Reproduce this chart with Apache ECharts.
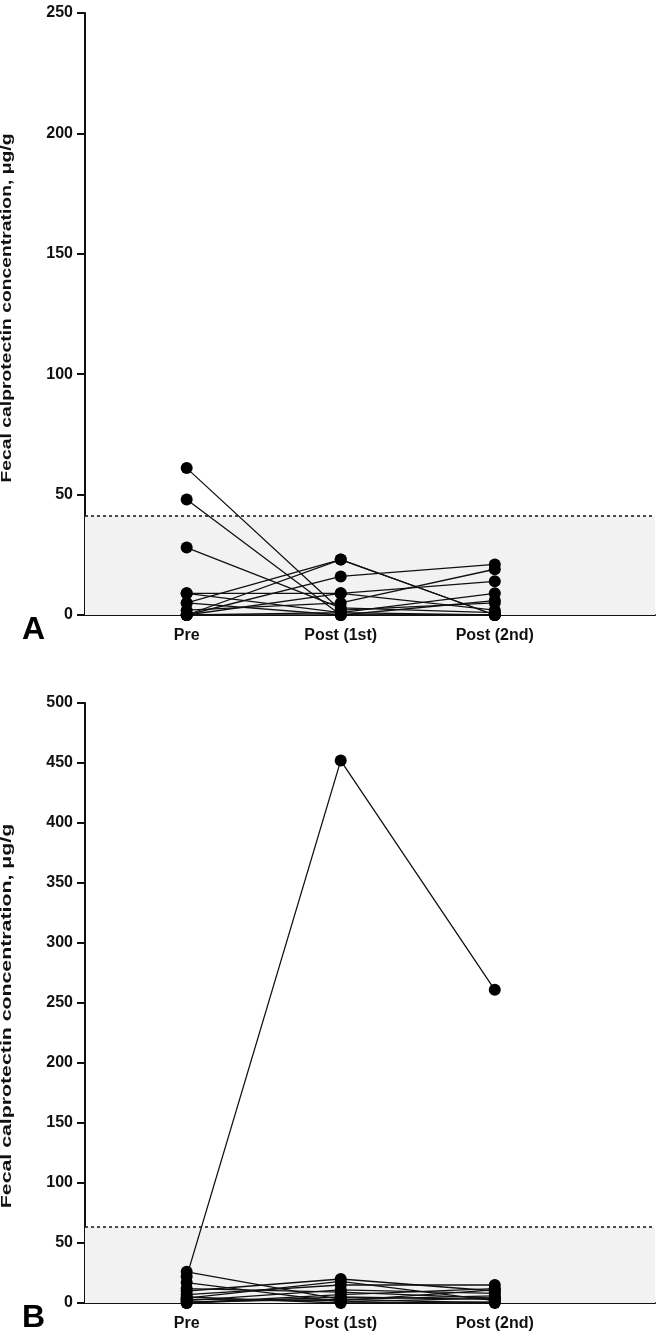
<!DOCTYPE html>
<html><head><meta charset="utf-8">
<script src="https://cdn.jsdelivr.net/npm/echarts@6/dist/echarts.min.js"></script>
<style>html,body{margin:0;padding:0;background:#fff}#c{width:661px;height:1343px}</style>
</head><body><div id="c"></div>
<script>
const categories = ['Pre', 'Post (1st)', 'Post (2nd)'];
const yTitle = 'Fecal calprotectin concentration, \u03bcg/g';
// Panel A: one entry per subject
const aPre   = [61, 48, 28, 9, 5, 0, 0, 2, 0, 0, 5, 0, 9];
const aPost1 = [2, 0, 3, 9, 23, 23, 16, 5, 9, 1, 0, 0, 1];
const aPost2 = [5, 0, 1, 2, 0, 0, 21, 19, 14, 9, 6, 0, 0];
const aRef = 41.3;
const aTicks = [0, 50, 100, 150, 200, 250];
// Panel B: one entry per subject
const bPre   = [22, 26, 17, 10, 7, 4, 2, 0, 1, 5, 0, 12, 3];
const bPost1 = [452, 3, 1, 20, 15, 18, 11, 7, 3, 0, 5, 9, 2];
const bPost2 = [261, 6, 4, 10, 15, 2, 8, 12, 0, 1, 3, 4, 11];
const bRef = 63.5;
const bTicks = [0, 50, 100, 150, 200, 250, 300, 350, 400, 450, 500];

const chart = echarts.init(document.getElementById('c'), null, {renderer: 'canvas'});
const FONT = 'Liberation Sans, Arial, sans-serif';
const XMIN = -0.66, XMAX = 3.04;
const grids = [
  {left: 85, right: 6, top: 13, height: 602, containLabel: false, outerBoundsMode: 'none'},
  {left: 85, right: 6, top: 703, height: 600, containLabel: false, outerBoundsMode: 'none'}
];
function xAx(i) {
  return {
    type: 'value', gridIndex: i, min: XMIN, max: XMAX,
    splitLine: {show: false},
    axisLine: {show: true, onZero: false, lineStyle: {color: '#111', width: 2}},
    axisTick: {show: true, customValues: [0, 1, 2], length: 6, lineStyle: {color: '#111', width: 2}},
    axisLabel: {customValues: [0, 1, 2], formatter: v => categories[Math.round(v)] || '',
      fontFamily: FONT, fontWeight: 'bold', fontSize: 16, color: '#111', margin: 13}
  };
}
function yAx(i, ticks) {
  return {
    type: 'value', gridIndex: i, min: ticks[0], max: ticks[ticks.length - 1], interval: 50,
    splitLine: {show: false},
    axisLine: {show: true, onZero: false, lineStyle: {color: '#111', width: 2}},
    axisTick: {show: true, length: 8, lineStyle: {color: '#111', width: 2}},
    axisLabel: {fontFamily: FONT, fontWeight: 'bold', fontSize: 16, color: '#111', margin: 12}
  };
}
const series = [];
function addPanel(i, pre, p1, p2, ref) {
  series.push({
    type: 'line', xAxisIndex: i, yAxisIndex: i, data: [], silent: true,
    markArea: {silent: true, itemStyle: {color: '#f2f2f2'},
      data: [[{coord: [XMIN, 0]}, {coord: [XMAX, ref]}]]},
    markLine: {silent: true, symbol: 'none', label: {show: false},
      lineStyle: {type: [3, 3], color: '#111', width: 1.5},
      data: [[{coord: [XMIN, ref]}, {coord: [XMAX, ref]}]]}
  });
  for (let k = 0; k < pre.length; k++) {
    series.push({
      type: 'line', xAxisIndex: i, yAxisIndex: i, silent: true, animation: false,
      symbol: 'circle', symbolSize: 12, showAllSymbol: true,
      itemStyle: {color: '#000'}, lineStyle: {color: '#111', width: 1.3},
      data: [[0, pre[k]], [1, p1[k]], [2, p2[k]]]
    });
  }
}
addPanel(0, aPre, aPost1, aPost2, aRef);
addPanel(1, bPre, bPost1, bPost2, bRef);

function yTitleEl(cy, stretch) {
  return {type: 'text', x: 14, y: cy, rotation: Math.PI / 2, scaleX: stretch, scaleY: 1,
    style: {text: yTitle, font: 'bold 14px ' + FONT, fill: '#111', textAlign: 'center', textVerticalAlign: 'bottom'}};
}

chart.setOption({
  animation: false,
  backgroundColor: '#fff',
  grid: grids,
  xAxis: [xAx(0), xAx(1)],
  yAxis: [yAx(0, aTicks), yAx(1, bTicks)],
  series: series,
  graphic: [
    yTitleEl(308, 1.38),
    yTitleEl(1016, 1.52),
    {type: 'text', left: 22, top: 614, style: {text: 'A', font: 'bold 32px ' + FONT, fill: '#000'}},
    {type: 'text', left: 22, top: 1302, style: {text: 'B', font: 'bold 32px ' + FONT, fill: '#000'}}
  ]
});
</script></body></html>
